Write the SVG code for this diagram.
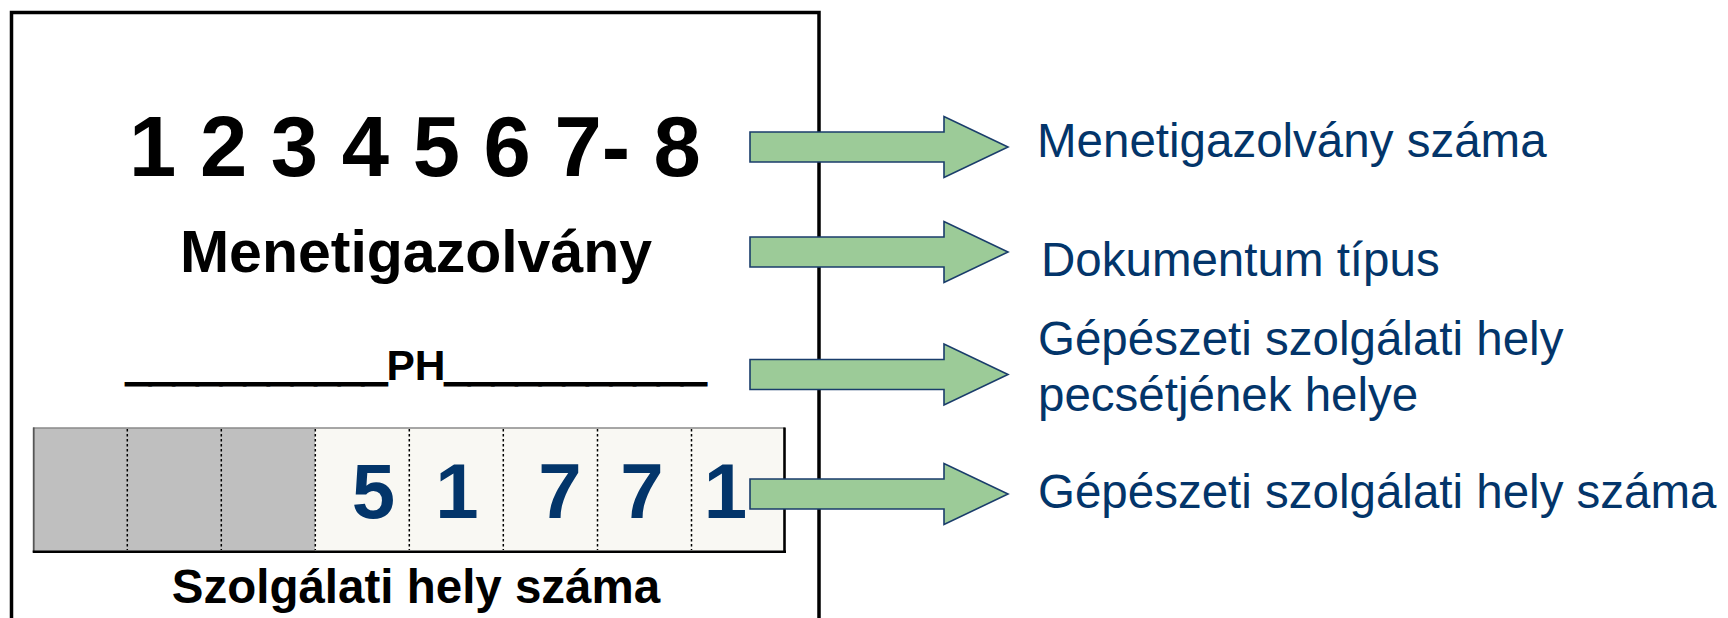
<svg xmlns="http://www.w3.org/2000/svg" xmlns:xlink="http://www.w3.org/1999/xlink" width="1728" height="618" viewBox="0 0 1728 618">
  <style>
    .doc { font-family: "Liberation Sans", Arial, sans-serif; font-weight: bold; fill: #000; }
    .uline { stroke: #000; stroke-width: 3; }
    .cellnum { font-family: "Liberation Sans", Arial, sans-serif; font-weight: bold; font-size: 78px; fill: #03356a; text-anchor: middle; }
    .label { font-family: "Liberation Sans", Arial, sans-serif; font-size: 47.5px; fill: #03356a; }
    .div { stroke: #000; stroke-width: 1.5; stroke-dasharray: 2.5 2.5; }
    .arrow { fill: #9ccb98; stroke: #1a3d6b; stroke-width: 1.6; stroke-linejoin: miter; }
  </style>
  <defs>
    <path id="arr" d="M0,-15 H194 V-30.5 L258,0 L194,30.5 V15 H0 Z"/>
  </defs>
  <rect width="1728" height="618" fill="#fff"/>

  <g id="document">
    <path d="M11.5,640 V12.5 H819 V640" fill="none" stroke="#000" stroke-width="3.5"/>
    <text class="doc" x="415" y="176" font-size="85" text-anchor="middle">1 2 3 4 5 6 7- 8</text>
    <text class="doc" x="416" y="272" font-size="59" text-anchor="middle">Menetigazolvány</text>
    <text class="doc" x="416" y="380" font-size="42.5" text-anchor="middle"><tspan class="uline">___________</tspan>PH<tspan class="uline">___________</tspan></text>
  </g>

  <g id="service-number-strip">
    <rect x="33" y="428" width="282" height="123" fill="#bfbfbf"/>
    <rect x="315" y="428" width="470" height="123" fill="#f9f8f3"/>
    <line x1="33" y1="428" x2="785" y2="428" stroke="#8a8a8a" stroke-width="1.5"/>
    <line x1="33.7" y1="427.5" x2="33.7" y2="552" stroke="#555" stroke-width="1.8"/>
    <line x1="32.7" y1="551.7" x2="786" y2="551.7" stroke="#000" stroke-width="2.4"/>
    <line x1="784.5" y1="427.5" x2="784.5" y2="553" stroke="#000" stroke-width="2.6"/>
    <line class="div" x1="127.3" y1="429" x2="127.3" y2="550"/>
    <line class="div" x1="221.3" y1="429" x2="221.3" y2="550"/>
    <line class="div" x1="315.3" y1="429" x2="315.3" y2="550"/>
    <line class="div" x1="409.3" y1="429" x2="409.3" y2="550"/>
    <line class="div" x1="503.3" y1="429" x2="503.3" y2="550"/>
    <line class="div" x1="597.5" y1="429" x2="597.5" y2="550"/>
    <line class="div" x1="691.5" y1="429" x2="691.5" y2="550"/>
    <text class="cellnum" x="373.5" y="518">5</text>
    <text class="cellnum" x="457" y="518">1</text>
    <text class="cellnum" x="560" y="518">7</text>
    <text class="cellnum" x="642" y="518">7</text>
    <text class="cellnum" x="725.5" y="518">1</text>
    <text class="doc" x="416" y="603" font-size="47.5" text-anchor="middle">Szolgálati hely száma</text>
  </g>

  <g id="connectors">
    <use xlink:href="#arr" href="#arr" class="arrow" x="750" y="147"/>
    <use xlink:href="#arr" href="#arr" class="arrow" x="750" y="252"/>
    <use xlink:href="#arr" href="#arr" class="arrow" x="750" y="374.5"/>
    <use xlink:href="#arr" href="#arr" class="arrow" x="750" y="494"/>
  </g>

  <g id="label-number">
    <text class="label" x="1037" y="157">Menetigazolvány száma</text>
  </g>
  <g id="label-type">
    <text class="label" x="1041" y="276">Dokumentum típus</text>
  </g>
  <g id="label-stamp">
    <text class="label" x="1038" y="354.5">Gépészeti szolgálati hely</text>
    <text class="label" x="1038" y="410.5">pecsétjének helye</text>
  </g>
  <g id="label-service-number">
    <text class="label" x="1038" y="508">Gépészeti szolgálati hely száma</text>
  </g>
</svg>
